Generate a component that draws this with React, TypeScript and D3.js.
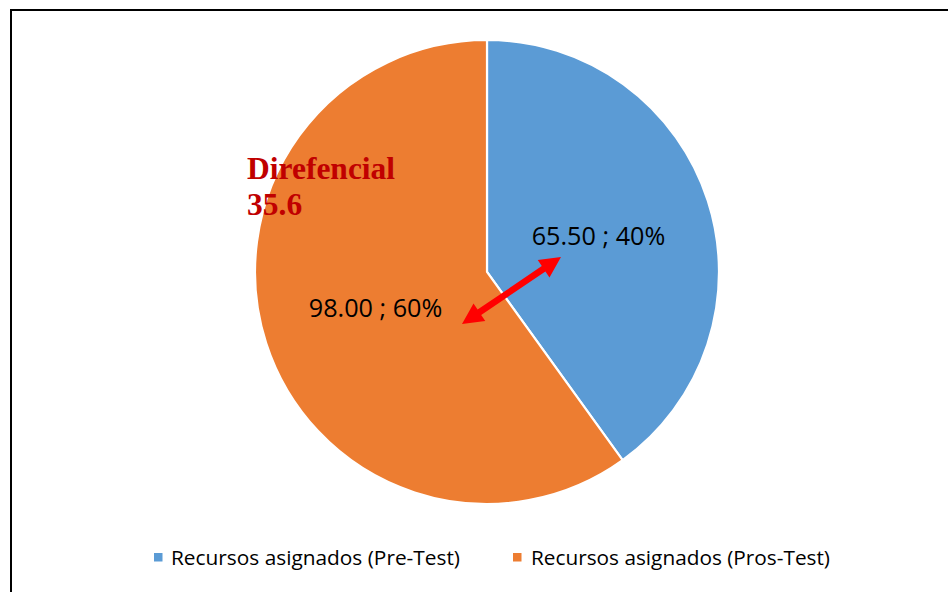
import React from "react";
import * as d3 from "d3";

const categories = ["Recursos asignados (Pre-Test)", "Recursos asignados (Pros-Test)"];
const values = [65.5, 98.0];
const colors = ["#5B9BD5", "#ED7D31"];
const annotationLines = ["Direfencial", "35.6"];

const W = 948;
const H = 592;
const cx = 487;
const cy = 272;
const R = 232;

export default function App() {
  const total = d3.sum(values);
  const pie = d3.pie<number>().sort(null).value((d) => d)(values);
  const arc = d3.arc<d3.PieArcDatum<number>>().innerRadius(0).outerRadius(R);
  const labelArc = d3.arc<d3.PieArcDatum<number>>().innerRadius(R * 0.505).outerRadius(R * 0.505);
  const fmt = d3.format(".2f");
  const pct = d3.format(".0%");

  // arrow geometry (relative to pie centre)
  const a1 = [cx - 25, cy + 52];
  const a2 = [cx + 74, cy - 15];
  const dx = a2[0] - a1[0];
  const dy = a2[1] - a1[1];
  const len = Math.hypot(dx, dy);
  const ux = dx / len, uy = dy / len;
  const px = -uy, py = ux;
  const headL = 21, headW = 10.5, shaftW = 3.2;
  const p = (x: number, y: number) => `${x.toFixed(2)},${y.toFixed(2)}`;
  const b1 = [a1[0] + ux * headL, a1[1] + uy * headL];
  const b2 = [a2[0] - ux * headL, a2[1] - uy * headL];
  const arrowPts = [
    p(a1[0], a1[1]),
    p(b1[0] + px * headW, b1[1] + py * headW),
    p(b1[0] + px * shaftW, b1[1] + py * shaftW),
    p(b2[0] + px * shaftW, b2[1] + py * shaftW),
    p(b2[0] + px * headW, b2[1] + py * headW),
    p(a2[0], a2[1]),
    p(b2[0] - px * headW, b2[1] - py * headW),
    p(b2[0] - px * shaftW, b2[1] - py * shaftW),
    p(b1[0] - px * shaftW, b1[1] - py * shaftW),
    p(b1[0] - px * headW, b1[1] - py * headW),
  ].join(" ");

  const legendItems = [
    { sq: 154, tx: 171, w: 289 },
    { sq: 513, tx: 531, w: 299 },
  ];

  return (
    <svg
      width={W}
      height={H}
      style={{ position: "absolute", left: 0, top: 0, background: "#fff" }}
      fontFamily="'Open Sans', sans-serif"
    >
      <rect x={0} y={0} width={W} height={H} fill="#fff" />
      <line x1={11} y1={10} x2={11} y2={H} stroke="#000" strokeWidth={2} />
      <line x1={10} y1={10} x2={W} y2={10} stroke="#000" strokeWidth={2} />
      <g transform={`translate(${cx},${cy})`}>
        {pie.map((d, i) => (
          <path key={i} d={arc(d) || ""} fill={colors[i]} stroke="#fff" strokeWidth={2.2} strokeLinejoin="miter" />
        ))}
        {pie.map((d, i) => {
          const [lx, ly] = labelArc.centroid(d);
          return (
            <text
              key={"l" + i}
              x={lx}
              y={ly}
              dy="0.35em"
              textAnchor="middle"
              fontSize={25.2}
              fill="#000"
            >
              {`${fmt(d.data)} ; ${pct(d.data / total)}`}
            </text>
          );
        })}
      </g>
      <polygon points={arrowPts} fill="#FF0000" />
      <text fontFamily="'Liberation Serif', 'Times New Roman', serif" fontWeight="bold" fontSize={31.5} fill="#C00000">
        {annotationLines.map((t, i) => (
          <tspan key={i} x={247} y={179 + i * 36}>
            {t}
          </tspan>
        ))}
      </text>
      {categories.map((c, i) => (
        <g key={"lg" + i}>
          <rect x={legendItems[i].sq} y={553} width={8.5} height={8.5} fill={colors[i]} />
          <text
            x={legendItems[i].tx}
            y={565}
            fontSize={20}
            fill="#000"
            textLength={legendItems[i].w}
            lengthAdjust="spacingAndGlyphs"
          >
            {c}
          </text>
        </g>
      ))}
    </svg>
  );
}
